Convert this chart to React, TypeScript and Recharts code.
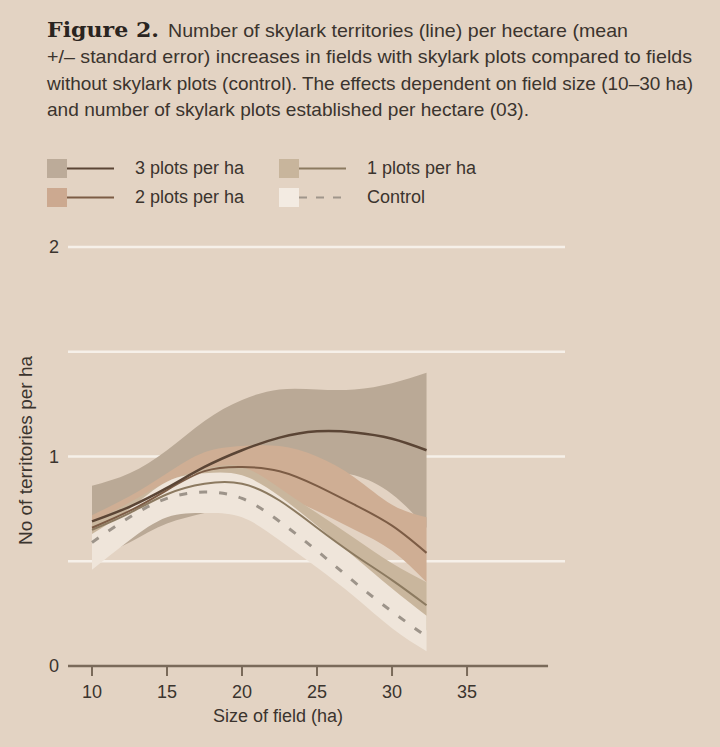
import { ComposedChart, Area, Line, XAxis, YAxis, CartesianGrid, ReferenceLine, Legend } from "recharts";

// field size (ha)
const fieldSizes = [10, 12.5, 15, 17.5, 20, 22.5, 25, 27.5, 30, 32.3];

// 3 plots per ha
const plots3Mean = [0.69, 0.76, 0.85, 0.95, 1.03, 1.09, 1.12, 1.115, 1.085, 1.03];
const plots3Low = [0.51, 0.59, 0.68, 0.73, 0.79, 0.86, 0.92, 0.91, 0.82, 0.66];
const plots3High = [0.86, 0.92, 1.03, 1.17, 1.27, 1.32, 1.32, 1.32, 1.35, 1.4];

// 2 plots per ha
const plots2Mean = [0.66, 0.74, 0.84, 0.93, 0.95, 0.93, 0.86, 0.77, 0.67, 0.54];
const plots2Low = [0.62, 0.68, 0.77, 0.84, 0.85, 0.81, 0.74, 0.65, 0.55, 0.4];
const plots2High = [0.72, 0.81, 0.92, 1.02, 1.05, 1.05, 1.0, 0.9, 0.77, 0.71];

// 1 plots per ha
const plots1Mean = [0.65, 0.73, 0.82, 0.87, 0.87, 0.79, 0.66, 0.53, 0.41, 0.29];
const plots1Low = [0.6, 0.67, 0.75, 0.79, 0.78, 0.69, 0.54, 0.4, 0.28, 0.17];
const plots1High = [0.69, 0.78, 0.88, 0.94, 0.95, 0.85, 0.73, 0.61, 0.49, 0.4];

// control
const controlMean = [0.59, 0.71, 0.8, 0.83, 0.8, 0.69, 0.55, 0.4, 0.26, 0.14];
const controlLow = [0.46, 0.6, 0.71, 0.73, 0.71, 0.6, 0.47, 0.33, 0.18, 0.07];
const controlHigh = [0.63, 0.75, 0.88, 0.92, 0.91, 0.81, 0.67, 0.52, 0.37, 0.24];

const xTicks = [10, 15, 20, 25, 30, 35];
const yTicks = [0, 0.5, 1, 1.5, 2];

const legendLabels = ["3 plots per ha", "2 plots per ha", "1 plots per ha", "Control"];

const titleLines = [
  "Number of skylark territories (line) per hectare (mean",
  "+/\u2013 standard error) increases in fields with skylark plots compared to fields",
  "without skylark plots (control). The effects dependent on field size (10\u201330 ha)",
  "and number of skylark plots established per hectare (03).",
];
// start x and rendered width of each caption line
const titleStarts = [168, 47, 47, 47];
const titleWidths = [460, 645, 646, 482];

const BG = "#e3d3c3";
const TEXT = "#3b342e";
const AXIS = "#7a6a5a";
const SANS = "'Liberation Sans', Arial, sans-serif";

const chartData = fieldSizes.map((size, i) => ({
  size,
  band3: [plots3Low[i], plots3High[i]],
  band2: [plots2Low[i], plots2High[i]],
  band1: [plots1Low[i], plots1High[i]],
  bandC: [controlLow[i], controlHigh[i]],
  mean3: plots3Mean[i],
  mean2: plots2Mean[i],
  mean1: plots1Mean[i],
  meanC: controlMean[i],
}));

const legendItems = [
  { label: legendLabels[0], fill: "#bcab99", stroke: "#5b4535", left: 47, top: 159 },
  { label: legendLabels[1], fill: "#cca990", stroke: "#7c5c45", left: 47, top: 188 },
  { label: legendLabels[2], fill: "#c8b59c", stroke: "#8c7a60", left: 279, top: 159 },
  { label: legendLabels[3], fill: "#f3ebe2", stroke: "#a0968b", left: 279, top: 188, dashed: true },
];

function LegendBox() {
  return (
    <div style={{ position: "relative", width: 720, height: 0 }}>
      {legendItems.map((it) => (
        <div key={it.label} style={{ position: "absolute", left: it.left, top: it.top, height: 19 }}>
          <div style={{ position: "absolute", left: 0, top: 0, width: 20, height: 19, background: it.fill }} />
          <svg style={{ position: "absolute", left: 20, top: 0 }} width={48} height={19}>
            <line
              x1={0}
              x2={it.dashed ? 46 : 47}
              y1={9.5}
              y2={9.5}
              stroke={it.stroke}
              strokeWidth={2}
              strokeDasharray={it.dashed ? "8 9" : undefined}
            />
          </svg>
          <span
            style={{
              position: "absolute",
              left: 88,
              top: -2,
              whiteSpace: "nowrap",
              fontFamily: SANS,
              fontSize: 18,
              lineHeight: "22px",
              color: TEXT,
            }}
          >
            {it.label}
          </span>
        </div>
      ))}
    </div>
  );
}

function Caption() {
  return (
    <svg width={720} height={130} style={{ position: "absolute", left: 0, top: 0 }}>
      <text
        x={47}
        y={37}
        textLength={112}
        lengthAdjust="spacingAndGlyphs"
        fontFamily="'DejaVu Serif', serif"
        fontWeight="bold"
        fontSize={21}
        fill="#2a2420"
      >
        Figure 2.
      </text>
      {titleLines.map((line, i) => (
        <text
          key={i}
          x={titleStarts[i]}
          y={37 + i * 26.3}
          textLength={titleWidths[i]}
          lengthAdjust="spacingAndGlyphs"
          fontFamily={SANS}
          fontSize={19}
          fill={TEXT}
        >
          {line}
        </text>
      ))}
    </svg>
  );
}

export default function App() {
  return (
    <div style={{ position: "absolute", left: 0, top: 0, width: 720, height: 747, background: BG, overflow: "hidden" }}>
      <Caption />
      <div style={{ position: "absolute", left: 0, top: 0 }}>
        <ComposedChart width={720} height={747} data={chartData} margin={{ top: 247, right: 155, left: 0, bottom: 0 }}>
          <CartesianGrid vertical={false} horizontalValues={[0.5, 1, 1.5, 2]} stroke="#f6f0e9" strokeWidth={2.5} />
          <XAxis
            dataKey="size"
            type="number"
            domain={[8.4, 41.53]}
            ticks={xTicks}
            height={81}
            axisLine={false}
            tickSize={10}
            tickMargin={9}
            tickLine={{ stroke: AXIS, strokeWidth: 2 }}
            tick={{ fill: TEXT, fontSize: 18, fontFamily: SANS }}
            label={{
              content: (p: any) => (
                <text
                  x={p.viewBox.x + 210}
                  y={p.viewBox.y + 56}
                  textAnchor="middle"
                  fill={TEXT}
                  fontSize={18}
                  fontFamily={SANS}
                >
                  Size of field (ha)
                </text>
              ),
            }}
          />
          <YAxis
            type="number"
            domain={[0, 2]}
            ticks={yTicks}
            width={68}
            axisLine={false}
            tickLine={false}
            tickSize={0}
            tickMargin={9}
            tickFormatter={(v: number) => (Number.isInteger(v) ? String(v) : "")}
            tick={{ fill: TEXT, fontSize: 18, fontFamily: SANS }}
            label={{
              content: (p: any) => {
                const cx = p.viewBox.x + 25;
                const cy = p.viewBox.y + p.viewBox.height / 2 - 6;
                return (
                  <text
                    x={cx}
                    y={cy}
                    transform={`rotate(-90 ${cx} ${cy})`}
                    textAnchor="middle"
                    dominantBaseline="central"
                    fill={TEXT}
                    fontSize={19}
                    fontFamily={SANS}
                  >
                    No of territories per ha
                  </text>
                );
              },
            }}
          />
          <Legend
            layout="horizontal"
            verticalAlign="middle"
            align="center"
            wrapperStyle={{ top: 0, left: 0, width: 720, height: 0 }}
            content={() => <LegendBox />}
          />
          <Area dataKey="band3" type="natural" stroke="none" fill="#baa996" fillOpacity={1} isAnimationActive={false} />
          <Area dataKey="band2" type="natural" stroke="none" fill="#cfae94" fillOpacity={1} isAnimationActive={false} />
          <Area dataKey="band1" type="natural" stroke="none" fill="#c9b69d" fillOpacity={1} isAnimationActive={false} />
          <Area dataKey="bandC" type="natural" stroke="none" fill="#efe5da" fillOpacity={1} isAnimationActive={false} />
          <Line dataKey="meanC" type="natural" stroke="#9d948a" strokeWidth={3} strokeDasharray="8 12" dot={false} activeDot={false} isAnimationActive={false} />
          <Line dataKey="mean1" type="natural" stroke="#8c7a60" strokeWidth={2} dot={false} activeDot={false} isAnimationActive={false} />
          <Line dataKey="mean2" type="natural" stroke="#7c5c45" strokeWidth={2} dot={false} activeDot={false} isAnimationActive={false} />
          <Line dataKey="mean3" type="natural" stroke="#5b4535" strokeWidth={2.5} dot={false} activeDot={false} isAnimationActive={false} />
          <ReferenceLine
            segment={[
              { x: 8.4, y: 0 },
              { x: 40.4, y: 0 },
            ]}
            stroke={AXIS}
            strokeWidth={2.5}
          />
        </ComposedChart>
      </div>
    </div>
  );
}
